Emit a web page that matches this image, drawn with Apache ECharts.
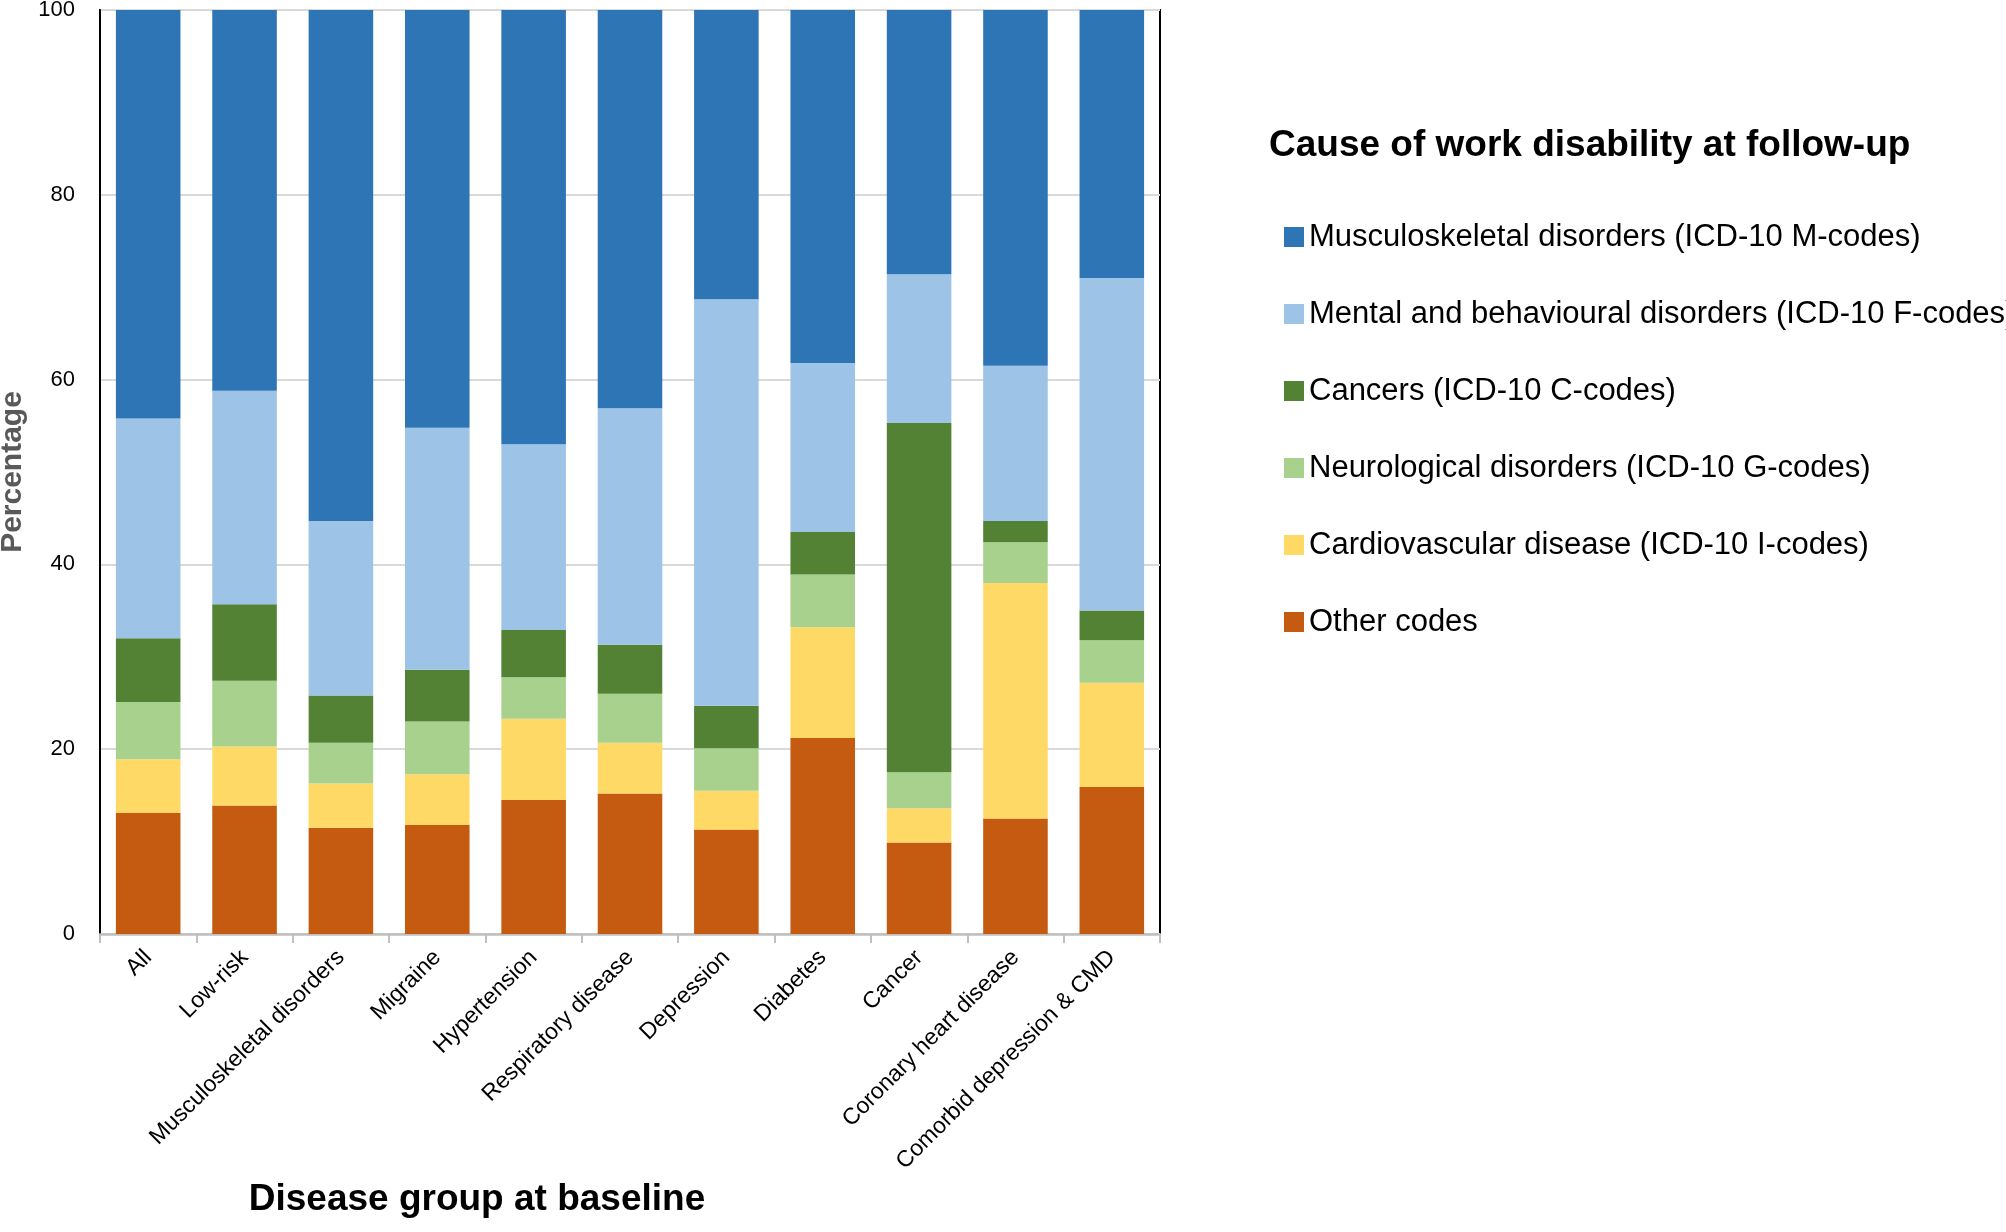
<!DOCTYPE html>
<html>
<head>
<meta charset="utf-8">
<script src="https://cdn.jsdelivr.net/npm/echarts@6/dist/echarts.min.js"></script>
<style>html,body{margin:0;padding:0;background:#fff;}#c{width:2006px;height:1232px;}</style>
</head>
<body>
<div id="c"></div>
<script>
const categories = ['All','Low-risk','Musculoskeletal disorders','Migraine','Hypertension','Respiratory disease','Depression','Diabetes','Cancer','Coronary heart disease','Comorbid depression & CMD'];
const other       = [13.1, 13.9, 11.5, 11.8, 14.5, 15.2, 11.3, 21.2,  9.9, 12.5, 15.9];
const cardio      = [ 5.8,  6.4,  4.8,  5.5,  8.8,  5.5,  4.2, 12.0,  3.7, 25.5, 11.3];
const neuro       = [ 6.2,  7.1,  4.4,  5.7,  4.5,  5.3,  4.6,  5.7,  3.9,  4.4,  4.6];
const cancers     = [ 6.9,  8.3,  5.1,  5.6,  5.1,  5.3,  4.6,  4.6, 37.8,  2.3,  3.2];
const mental      = [23.8, 23.1, 18.9, 26.2, 20.1, 25.6, 44.0, 18.3, 16.1, 16.8, 36.0];
const musculo     = [44.2, 41.2, 55.3, 45.2, 47.0, 43.1, 31.3, 38.2, 28.6, 38.5, 29.0];
const yTicks = [0, 20, 40, 60, 80, 100];

const seriesNames = ['Other codes','Cardiovascular disease (ICD-10 I-codes)','Neurological disorders (ICD-10 G-codes)','Cancers (ICD-10 C-codes)','Mental and behavioural disorders (ICD-10 F-codes)','Musculoskeletal disorders (ICD-10 M-codes)'];
const seriesData = [other, cardio, neuro, cancers, mental, musculo];
const colors = ['#C55A11','#FFD966','#A9D18E','#548235','#9DC3E6','#2E75B6'];

const FONT = '"Liberation Sans", Arial, sans-serif';
const chart = echarts.init(document.getElementById('c'));
chart.setOption({
  animation: false,
  backgroundColor: '#fff',
  textStyle: { fontFamily: FONT },
  title: [
    { text: 'Cause of work disability at follow-up', left: 1264, top: 122,
      textStyle: { fontFamily: FONT, fontWeight: 'bold', fontSize: 37, color: '#000' } },
    { text: 'Disease group at baseline', left: 472, top: 1176, textAlign: 'center',
      textStyle: { fontFamily: FONT, fontWeight: 'bold', fontSize: 37, color: '#000' } }
  ],
  legend: {
    orient: 'vertical', left: 1279, top: 214,
    data: seriesNames.slice().reverse(),
    itemWidth: 20, itemHeight: 20, itemGap: 41,
    icon: 'rect',
    textStyle: { fontFamily: FONT, fontSize: 31, color: '#000', lineHeight: 36 }
  },
  grid: { left: 100, right: 2006 - 1160, top: 10, bottom: 1232 - 934,
    outerBoundsMode: 'none', containLabel: false,
    show: true, borderColor: '#000', borderWidth: 2, backgroundColor: 'transparent' },
  xAxis: {
    type: 'category', data: categories,
    axisLine: { lineStyle: { color: '#BFBFBF', width: 2.5 } },
    axisTick: { show: true, alignWithLabel: false, length: 9, lineStyle: { color: '#BFBFBF', width: 2 } },
    axisLabel: { rotate: 45, interval: 0, fontSize: 23, color: '#000', margin: 20, fontFamily: FONT }
  },
  yAxis: {
    type: 'value', min: 0, max: 100, interval: 20,
    name: 'Percentage', nameLocation: 'middle', nameGap: 72, nameRotate: 90,
    nameTextStyle: { fontFamily: FONT, fontWeight: 'bold', fontSize: 30, color: '#595959' },
    axisLine: { show: true, lineStyle: { color: '#000', width: 2 } },
    axisTick: { show: false },
    axisLabel: { fontSize: 22, color: '#000', margin: 25, fontFamily: FONT,
      formatter: v => yTicks.includes(v) ? String(v) : '' },
    splitLine: { lineStyle: { color: '#D9D9D9', width: 2 } }
  },
  series: seriesNames.map((n, i) => ({
    name: n, type: 'bar', stack: 'total', data: seriesData[i],
    barCategoryGap: '33%',
    itemStyle: { color: colors[i] }
  }))
});
</script>
</body>
</html>
